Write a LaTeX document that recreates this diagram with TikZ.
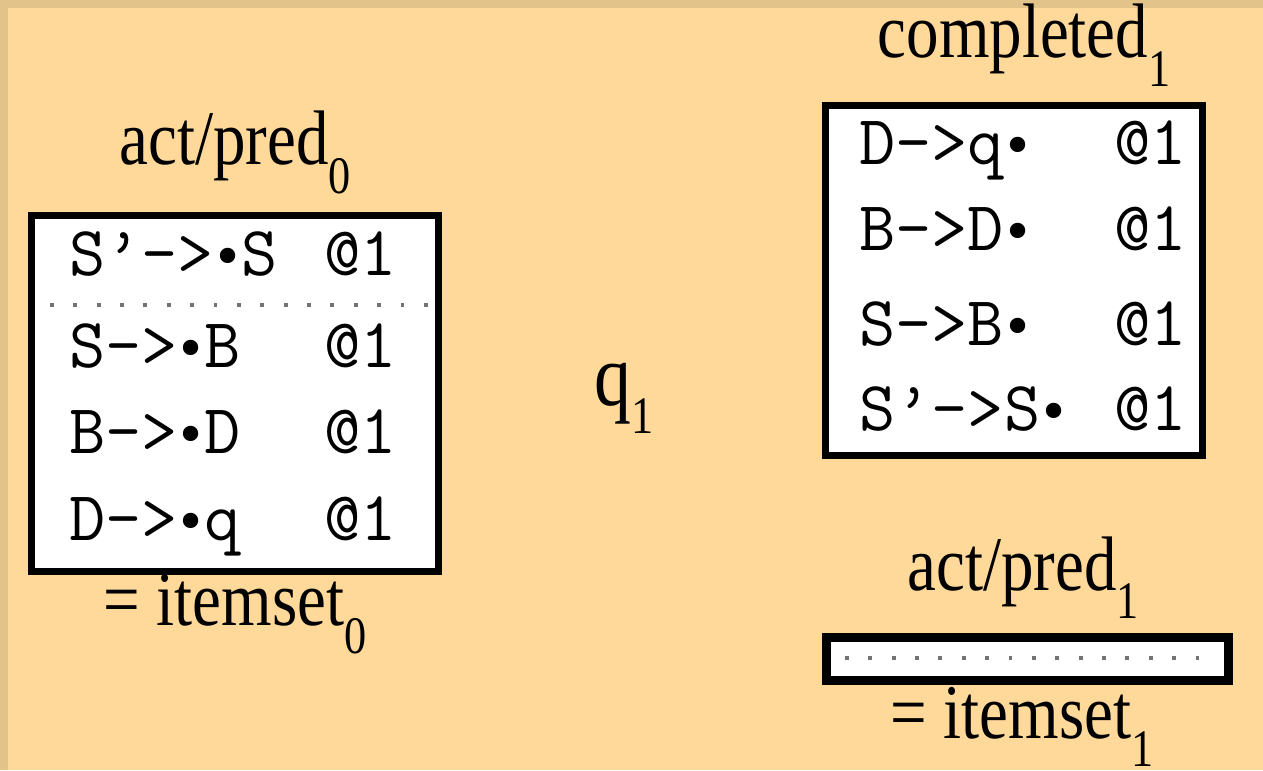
\documentclass[tikz,border=0pt]{standalone}
\usepackage{fontspec}
\newfontfamily\labelfont[FakeStretch=0.84]{Liberation Serif}
\newfontfamily\dotfont{DejaVu Sans}
\definecolor{slidebg}{RGB}{255,217,153}
\definecolor{slideedge}{RGB}{226,196,138}
\newcommand{\itemfont}{\ttfamily\fontsize{40}{40}\selectfont\addfontfeatures{FakeBold=0.8}}
\newcommand{\lowsub}[1]{\raisebox{-16pt}{\fontsize{30}{30}\selectfont #1}}
\newcommand{\itemdot}{{\dotfont\fontsize{30}{30}\selectfont\hspace{-0.04em}•\hspace{-0.04em}}}
\tikzset{
  itembox/.style={draw=black, fill=white, line width=4pt, inner sep=0pt},
  itemtxt/.style={font=\itemfont, inner sep=0pt, anchor=base west},
  attxt/.style={font=\itemfont, inner sep=0pt, anchor=base east},
  boxlabel/.style={font=\labelfont\fontsize{44}{44}\selectfont, inner sep=0pt, anchor=base},
  sepline/.style={draw=black!55, line width=2.2pt, dash pattern=on 2.2pt off 11.1pt}
}
\begin{document}
\begin{tikzpicture}[x=0.02cm,y=-0.02cm]
% slide background
\fill[slideedge] (0,0) rectangle (1263,770);
\fill[slidebg] (8,8) rectangle (1263,770);
\useasboundingbox (0,0) rectangle (1263,770);

% act/pred 0
\node[itembox, minimum width=8.14cm, minimum height=7.12cm] (predzero) at (235,393.5) {};
\draw[sepline] (50,305) -- (434,305);
\node[itemtxt] (pz1) at (69,275) {S\textquoteright->\itemdot S};
\node[itemtxt] (pz2) at (69,367) {S->\itemdot B};
\node[itemtxt] (pz3) at (69,453) {B->\itemdot D};
\node[itemtxt] (pz4) at (69,540) {D->\itemdot q};
\node[attxt] (pza1) at (397,275) {@1};
\node[attxt] (pza2) at (397,367) {@1};
\node[attxt] (pza3) at (397,453) {@1};
\node[attxt] (pza4) at (397,540) {@1};
\node[boxlabel] (predzerolbl) at (235,165) {act/pred\lowsub{0}};
\node[boxlabel] (setzerolbl) at (235,625) {= itemset\lowsub{0}};

% scanned symbol
\node[boxlabel, font=\labelfont\fontsize{50}{50}\selectfont] (qlbl) at (624,405) {q\lowsub{1}};

% completed 1
\node[itembox, minimum width=7.56cm, minimum height=7.02cm] (complone) at (1014,280.5) {};
\node[itemtxt] (co1) at (859,165) {D->q\itemdot};
\node[itemtxt] (co2) at (859,250) {B->D\itemdot};
\node[itemtxt] (co3) at (859,345) {S->B\itemdot};
\node[itemtxt] (co4) at (859,430) {S\textquoteright->S\itemdot};
\node[attxt] (coa1) at (1187,165) {@1};
\node[attxt] (coa2) at (1187,250) {@1};
\node[attxt] (coa3) at (1187,345) {@1};
\node[attxt] (coa4) at (1187,430) {@1};
\node[boxlabel] (compllbl) at (1024,58) {completed\lowsub{1}};

% act/pred 1 (empty)
\node[itembox, line width=5.1pt, minimum width=8.04cm, minimum height=0.86cm] (predone) at (1027.5,659) {};
\draw[sepline] (845,658) -- (1212,658);
\node[boxlabel] (predonelbl) at (1023,590) {act/pred\lowsub{1}};
\node[boxlabel] (setonelbl) at (1022,738) {= itemset\lowsub{1}};
\end{tikzpicture}
\end{document}
